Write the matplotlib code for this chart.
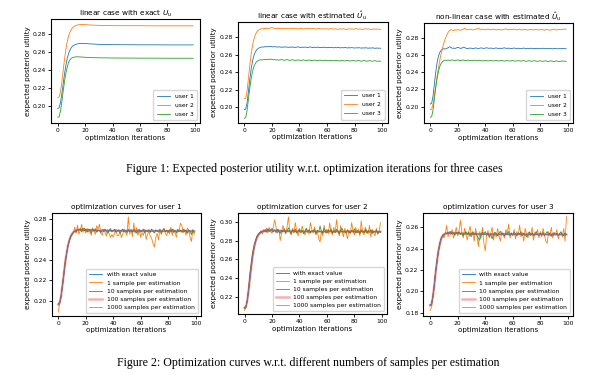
import matplotlib
matplotlib.use("Agg")
import matplotlib.pyplot as plt

# ---------------- data ----------------
XS = [0, 1, 2, 3, 4, 5, 6, 7, 8, 9, 10, 11, 12, 13, 14, 15, 16, 17, 18, 20, 22, 25, 30, 35, 40, 50, 60, 70, 80, 90, 99]
XN = list(range(100))

# Panel 1: linear case with exact U_u (smooth, sampled at XS)
p1_user1 = [.1972, .1980, .2040, .2140, .2255, .2365, .2460, .2535, .2590, .2628, .2654, .2670, .2680, .2687, .2692, .2695,
            .2697, .2698, .2698, .2697, .2695, .2692, .2688, .2686, .2685, .2684, .2683, .2683, .2682, .2682, .2682]
p1_user2 = [.2095, .2100, .2160, .2270, .2400, .2530, .2640, .2725, .2785, .2828, .2857, .2876, .2889, .2897, .2903, .2906,
            .2908, .2909, .2909, .2908, .2906, .2903, .2900, .2898, .2897, .2896, .2896, .2895, .2895, .2895, .2895]
p1_user3 = [.1874, .1880, .1945, .2050, .2170, .2280, .2370, .2440, .2490, .2518, .2533, .2541, .2545, .2548, .2549, .2549,
            .2548, .2547, .2546, .2544, .2542, .2540, .2538, .2537, .2536, .2535, .2534, .2534, .2533, .2533, .2533]

# Panel 2: linear case with estimated U_u (100 iterations)
p2_user1 = [.1968, .1976, .2050, .2180, .2320, .2440, .2530, .2590, .2630, .2655, .2670, .2679, .2685, .2688, .2686, .2691, .2689, .2693, .2690, .2694,
            .2691, .2688, .2692, .2689, .2686, .2690, .2687, .2684, .2688, .2685, .2689, .2686, .2683, .2687, .2684, .2688, .2685, .2682, .2686, .2689,
            .2685, .2682, .2686, .2683, .2687, .2684, .2681, .2685, .2688, .2684, .2681, .2685, .2682, .2686, .2683, .2680, .2684, .2681, .2685, .2682,
            .2679, .2683, .2680, .2684, .2681, .2678, .2682, .2679, .2683, .2680, .2677, .2681, .2678, .2682, .2679, .2676, .2680, .2677, .2681, .2678,
            .2675, .2679, .2676, .2680, .2677, .2674, .2678, .2675, .2679, .2676, .2673, .2677, .2674, .2678, .2675, .2672, .2676, .2673, .2675, .2672]
p2_user2 = [.2095, .2100, .2185, .2330, .2480, .2610, .2710, .2780, .2828, .2860, .2878, .2889, .2895, .2898, .2896, .2901, .2899, .2903, .2900, .2906,
            .2910, .2905, .2900, .2903, .2898, .2901, .2897, .2900, .2896, .2899, .2902, .2898, .2895, .2899, .2903, .2900, .2897, .2901, .2898, .2894,
            .2898, .2901, .2897, .2894, .2898, .2895, .2899, .2902, .2898, .2895, .2899, .2896, .2893, .2897, .2900, .2896, .2893, .2897, .2894, .2898,
            .2895, .2892, .2896, .2899, .2895, .2892, .2896, .2893, .2890, .2894, .2897, .2893, .2896, .2892, .2889, .2893, .2896, .2892, .2895, .2891,
            .2894, .2898, .2894, .2891, .2895, .2892, .2889, .2893, .2896, .2892, .2895, .2891, .2888, .2892, .2895, .2891, .2894, .2890, .2892, .2889]
p2_user3 = [.1870, .1876, .1960, .2090, .2220, .2330, .2410, .2465, .2500, .2520, .2532, .2538, .2541, .2538, .2543, .2546, .2541, .2548, .2543, .2550,
            .2545, .2540, .2544, .2538, .2542, .2536, .2540, .2544, .2539, .2535, .2539, .2543, .2538, .2534, .2538, .2541, .2537, .2533, .2537, .2540,
            .2536, .2532, .2536, .2540, .2535, .2531, .2535, .2539, .2534, .2531, .2535, .2538, .2533, .2530, .2534, .2537, .2533, .2529, .2533, .2536,
            .2532, .2529, .2533, .2536, .2531, .2528, .2532, .2535, .2530, .2527, .2531, .2534, .2530, .2527, .2531, .2534, .2529, .2526, .2530, .2533,
            .2529, .2526, .2530, .2533, .2528, .2525, .2529, .2532, .2527, .2524, .2528, .2531, .2527, .2524, .2528, .2530, .2526, .2523, .2526, .2524]

# Panel 3: non-linear case with estimated U_u
p3_user1 = [.2030, .2040, .2125, .2265, .2405, .2515, .2588, .2632, .2656, .2667, .2672, .2669, .2676, .2684, .2694, .2688, .2676, .2679, .2675, .2681,
            .2688, .2683, .2675, .2679, .2690, .2686, .2677, .2672, .2676, .2680, .2677, .2673, .2677, .2681, .2678, .2674, .2678, .2682, .2678, .2675,
            .2679, .2683, .2679, .2676, .2680, .2677, .2674, .2678, .2681, .2677, .2674, .2678, .2675, .2679, .2682, .2678, .2675, .2679, .2676, .2673,
            .2677, .2680, .2677, .2674, .2678, .2675, .2672, .2676, .2679, .2676, .2673, .2677, .2674, .2678, .2675, .2672, .2676, .2673, .2677, .2674,
            .2671, .2675, .2678, .2674, .2671, .2675, .2672, .2676, .2673, .2670, .2674, .2677, .2673, .2670, .2674, .2671, .2675, .2672, .2674, .2671]
p3_user2 = [.1965, .1970, .2030, .2135, .2245, .2355, .2455, .2545, .2622, .2688, .2745, .2793, .2832, .2862, .2882, .2893, .2887, .2885, .2891, .2888,
            .2894, .2890, .2886, .2892, .2897, .2910, .2898, .2890, .2895, .2899, .2893, .2889, .2894, .2898, .2903, .2908, .2899, .2894, .2898, .2895,
            .2891, .2896, .2900, .2895, .2891, .2896, .2899, .2894, .2890, .2895, .2898, .2893, .2889, .2894, .2898, .2902, .2896, .2891, .2895, .2892,
            .2896, .2899, .2894, .2890, .2895, .2898, .2893, .2889, .2894, .2897, .2892, .2888, .2893, .2897, .2892, .2889, .2894, .2898, .2893, .2889,
            .2893, .2896, .2891, .2887, .2892, .2896, .2891, .2886, .2891, .2895, .2899, .2893, .2889, .2893, .2896, .2892, .2895, .2898, .2901, .2898]
p3_user3 = [.1877, .1882, .1962, .2092, .2222, .2332, .2412, .2470, .2505, .2525, .2535, .2539, .2537, .2540, .2536, .2539, .2542, .2538, .2535, .2539,
            .2542, .2537, .2534, .2538, .2541, .2536, .2533, .2537, .2540, .2535, .2532, .2536, .2539, .2535, .2531, .2535, .2538, .2534, .2530, .2534,
            .2537, .2533, .2530, .2534, .2537, .2532, .2529, .2533, .2536, .2532, .2529, .2533, .2536, .2531, .2528, .2532, .2535, .2531, .2528, .2532,
            .2535, .2530, .2527, .2531, .2534, .2530, .2527, .2531, .2534, .2529, .2526, .2530, .2533, .2529, .2526, .2530, .2533, .2528, .2525, .2529,
            .2532, .2528, .2525, .2529, .2532, .2527, .2524, .2528, .2531, .2527, .2524, .2528, .2531, .2526, .2523, .2527, .2530, .2526, .2528, .2525]

# Panel 4: user 1 with different sample counts
p4_exact = p1_user1
p4_s1 = [.1890, .1975, .2025, .2160, .2265, .2400, .2450, .2530, .2590, .2620, .2645, .2665, .2720, .2660, .2740, .2652, .2685, .2748, .2668, .2712,
         .2662, .2705, .2672, .2690, .2640, .2715, .2680, .2650, .2735, .2700, .2750, .2660, .2642, .2700, .2672, .2632, .2695, .2655, .2620, .2648,
         .2625, .2660, .2700, .2635, .2640, .2680, .2618, .2655, .2700, .2668, .2640, .2820, .2650, .2700, .2630, .2760, .2662, .2715, .2640, .2695,
         .2620, .2665, .2640, .2700, .2600, .2648, .2685, .2630, .2610, .2560, .2525, .2620, .2660, .2595, .2700, .2648, .2690, .2712, .2660, .2638,
         .2690, .2655, .2720, .2640, .2700, .2665, .2622, .2700, .2680, .2760, .2738, .2665, .2700, .2640, .2712, .2690, .2620, .2580, .2700, .2650]
p4_s10 = [.1960, .1985, .2045, .2145, .2250, .2370, .2455, .2540, .2585, .2632, .2650, .2668, .2680, .2672, .2695, .2688, .2705, .2676, .2710, .2684,
          .2695, .2672, .2700, .2688, .2662, .2698, .2680, .2705, .2670, .2692, .2685, .2665, .2698, .2676, .2702, .2682, .2660, .2690, .2706, .2675,
          .2688, .2700, .2668, .2685, .2695, .2660, .2688, .2702, .2674, .2690, .2666, .2698, .2680, .2692, .2670, .2700, .2685, .2662, .2690, .2698,
          .2672, .2688, .2700, .2665, .2690, .2678, .2695, .2668, .2702, .2680, .2662, .2692, .2685, .2672, .2698, .2665, .2688, .2700, .2676, .2690,
          .2668, .2695, .2680, .2702, .2670, .2688, .2664, .2696, .2682, .2690, .2670, .2700, .2678, .2688, .2660, .2692, .2675, .2648, .2690, .2665]
p4_s100 = [.1962, .1978, .2045, .2145, .2258, .2368, .2462, .2538, .2592, .2630, .2656, .2671, .2682, .2688, .2693, .2696,
           .2695, .2697, .2699, .2696, .2693, .2691, .2686, .2687, .2684, .2685, .2683, .2684, .2682, .2683, .2681]
p4_s1000 = [.1970, .1979, .2042, .2142, .2256, .2366, .2461, .2536, .2591, .2629, .2655, .2670, .2681, .2688, .2692, .2695,
            .2697, .2697, .2698, .2696, .2694, .2692, .2688, .2686, .2685, .2684, .2683, .2683, .2682, .2682, .2682]

# Panel 5: user 2
p5_exact = p1_user2
p5_s1 = [.2060, .2085, .2160, .2290, .2440, .2560, .2680, .2740, .2800, .2845, .2870, .2880, .2905, .2870, .2915, .2888, .2930, .2880, .2940, .2900,
         .2875, .2950, .3020, .2935, .2880, .2920, .2800, .2880, .2960, .2910, .2870, .2945, .3050, .2900, .2860, .2930, .2880, .2990, .2900, .2850,
         .2920, .2880, .2955, .2895, .2860, .2930, .2900, .2870, .2990, .2920, .2880, .2945, .2860, .2900, .2820, .2785, .2900, .2850, .2960, .2880,
         .2920, .2870, .2985, .2900, .2860, .2940, .2880, .3020, .2900, .2850, .2960, .2890, .2840, .2930, .2880, .2820, .2910, .2870, .2990, .2900,
         .2860, .2940, .2880, .2920, .2850, .3010, .2890, .2860, .2940, .2900, .2870, .2960, .2840, .2920, .2880, .2850, .2930, .2870, .2900, .2990]
p5_s10 = [.2080, .2095, .2170, .2300, .2450, .2570, .2670, .2750, .2800, .2840, .2865, .2885, .2880, .2900, .2892, .2915, .2888, .2925, .2895, .2910,
          .2930, .2890, .2915, .2882, .2920, .2895, .2875, .2910, .2890, .2925, .2880, .2905, .2935, .2895, .2870, .2915, .2890, .2920, .2878, .2905,
          .2925, .2885, .2910, .2872, .2900, .2930, .2888, .2915, .2880, .2905, .2895, .2920, .2870, .2910, .2890, .2955, .2895, .2878, .2930, .2900,
          .2880, .2915, .2890, .2925, .2875, .2905, .2885, .2920, .2895, .2870, .2910, .2930, .2888, .2900, .2875, .2915, .2892, .2880, .2910, .2895,
          .2925, .2880, .2905, .2890, .2870, .2915, .2895, .2885, .2920, .2878, .2905, .2890, .2915, .2875, .2900, .2888, .2910, .2870, .2895, .2885]
p5_s100 = [.2088, .2098, .2162, .2268, .2402, .2528, .2642, .2722, .2787, .2826, .2858, .2875, .2890, .2896, .2904, .2905,
           .2909, .2907, .2910, .2906, .2907, .2902, .2901, .2898, .2898, .2897, .2895, .2896, .2894, .2896, .2894]
p5_s1000 = [.2094, .2100, .2161, .2269, .2400, .2530, .2640, .2724, .2785, .2828, .2857, .2876, .2889, .2897, .2903, .2906,
            .2908, .2909, .2909, .2908, .2906, .2903, .2900, .2898, .2897, .2896, .2896, .2895, .2895, .2895, .2895]

# Panel 6: user 3
p6_exact = p1_user3
p6_s1 = [.1820, .1850, .1950, .2060, .2190, .2270, .2380, .2430, .2490, .2530, .2500, .2540, .2620, .2510, .2560, .2530, .2580, .2500, .2545, .2600,
         .2520, .2570, .2665, .2560, .2500, .2590, .2530, .2480, .2560, .2610, .2510, .2555, .2470, .2590, .2530, .2420, .2560, .2500, .2600, .2450,
         .2380, .2520, .2570, .2500, .2540, .2600, .2480, .2550, .2510, .2590, .2520, .2470, .2560, .2530, .2500, .2580, .2540, .2630, .2500, .2550,
         .2520, .2580, .2490, .2560, .2530, .2620, .2510, .2550, .2470, .2590, .2540, .2500, .2560, .2520, .2600, .2480, .2550, .2530, .2580, .2500,
         .2560, .2510, .2590, .2530, .2470, .2450, .2560, .2520, .2600, .2500, .2550, .2530, .2580, .2490, .2540, .2560, .2510, .2590, .2470, .2700]
p6_s10 = [.1865, .1880, .1950, .2070, .2190, .2300, .2390, .2455, .2500, .2520, .2530, .2545, .2538, .2552, .2540, .2560, .2535, .2548, .2525, .2555,
          .2540, .2560, .2530, .2550, .2520, .2545, .2560, .2535, .2555, .2515, .2540, .2560, .2530, .2548, .2520, .2500, .2478, .2530, .2555, .2540,
          .2560, .2525, .2545, .2510, .2535, .2492, .2530, .2555, .2540, .2520, .2548, .2562, .2530, .2545, .2520, .2550, .2535, .2560, .2525, .2545,
          .2530, .2555, .2540, .2520, .2548, .2535, .2560, .2525, .2545, .2530, .2510, .2540, .2555, .2530, .2548, .2520, .2540, .2560, .2535, .2525,
          .2545, .2530, .2555, .2520, .2540, .2560, .2528, .2545, .2515, .2540, .2550, .2530, .2545, .2525, .2540, .2555, .2530, .2520, .2545, .2532]
p6_s100 = [.1870, .1879, .1947, .2048, .2172, .2278, .2372, .2438, .2492, .2516, .2535, .2540, .2546, .2547, .2550, .2548,
           .2549, .2546, .2547, .2543, .2543, .2539, .2539, .2536, .2537, .2534, .2535, .2533, .2534, .2532, .2533]
p6_s1000 = [.1873, .1880, .1946, .2050, .2171, .2280, .2371, .2440, .2490, .2518, .2533, .2541, .2545, .2548, .2549, .2549,
            .2548, .2547, .2546, .2544, .2542, .2540, .2538, .2537, .2536, .2535, .2534, .2534, .2533, .2533, .2533]

user_labels = ["user 1", "user 2", "user 3"]
sample_labels = ["with exact value", "1 sample per estimation", "10 samples per estimation",
                 "100 samples per estimation", "1000 samples per estimation"]
top_titles = [r"linear case with exact $U_u$", r"linear case with estimated $\hat{U}_u$",
              r"non-linear case with estimated $\hat{U}_u$"]
bottom_titles = ["optimization curves for user 1", "optimization curves for user 2", "optimization curves for user 3"]
caption1 = "Figure 1: Expected posterior utility w.r.t. optimization iterations for three cases"
caption2 = "Figure 2: Optimization curves w.r.t. different numbers of samples per estimation"

# ---------------- layout ----------------
W, H = 611, 375
fig = plt.figure(figsize=(W / 100, H / 100), dpi=100)

def box(l, t, r, b):
    return [l / W, 1 - b / H, (r - l) / W, (b - t) / H]

top_boxes = [box(51, 19, 200, 123.3), box(237.5, 22, 387.5, 123), box(423.5, 23.3, 573, 123.3)]
bot_boxes = [box(51.5, 212.7, 201, 316), box(237.7, 212.7, 387.3, 314.3), box(423.3, 212.7, 573.3, 316)]
top_ylims = [(0.1807, 0.2971), (0.1816, 0.2974), (0.1806, 0.2967)]
bot_ylims = [(0.185, 0.2862), (0.202, 0.3095), (0.1769, 0.2737)]

C = ["#1f77b4", "#ff7f0e", "#2ca02c", "#d62728", "#9467bd"]
LW = 0.6
TICK_FS, LABEL_FS, TITLE_FS, LEG_FS = 4.3, 5.1, 5.3, 4.3

def style(ax, ylim, title, title_fs):
    ax.set_xlim(-4.95, 103.95)
    ax.set_ylim(*ylim)
    ax.set_xticks([0, 20, 40, 60, 80, 100])
    ax.tick_params(labelsize=TICK_FS, length=2, width=0.6, pad=1.5)
    for s in ax.spines.values():
        s.set_linewidth(0.8)
    ax.set_xlabel("optimization iterations", fontsize=LABEL_FS, labelpad=1)
    ax.set_ylabel("expected posterior utility", fontsize=LABEL_FS, labelpad=1.5)
    ax.set_title(title, fontsize=title_fs, pad=2.5)

top_data = [
    (XS, [p1_user1, p1_user2, p1_user3]),
    (XN, [p2_user1, p2_user2, p2_user3]),
    (XN, [p3_user1, p3_user2, p3_user3]),
]
for i, (xv, series) in enumerate(top_data):
    ax = fig.add_axes(top_boxes[i])
    for j, ys in enumerate(series):
        ax.plot(xv, ys, color=C[j], lw=LW, label=user_labels[j])
    style(ax, top_ylims[i], top_titles[i], TITLE_FS)
    ax.legend(loc="lower right", fontsize=LEG_FS, handlelength=2.2, borderpad=0.6,
              labelspacing=0.65, borderaxespad=0.5)

bot_data = [
    (p4_exact, p4_s1, p4_s10, p4_s100, p4_s1000),
    (p5_exact, p5_s1, p5_s10, p5_s100, p5_s1000),
    (p6_exact, p6_s1, p6_s10, p6_s100, p6_s1000),
]
for i, (ex, s1, s10, s100, s1000) in enumerate(bot_data):
    ax = fig.add_axes(bot_boxes[i])
    ax.plot(XS, ex, color=C[0], lw=LW, label=sample_labels[0])
    ax.plot(XN, s1, color=C[1], lw=LW, label=sample_labels[1])
    ax.plot(XN, s10, color=C[2], lw=LW, label=sample_labels[2])
    ax.plot(XS, s100, color=C[3], lw=1.8, alpha=0.35, label=sample_labels[3])
    ax.plot(XS, s1000, color=C[4], lw=LW, alpha=0.8, label=sample_labels[4])
    style(ax, bot_ylims[i], bottom_titles[i], TITLE_FS)
    ax.legend(loc="lower right", fontsize=LEG_FS, handlelength=2.2, borderpad=0.5,
              labelspacing=0.5, borderaxespad=0.5)

fig.text(314 / W, 1 - 169 / H, caption1, family="Liberation Serif", fontsize=8.6, ha="center", va="center")
fig.text(308 / W, 1 - 363 / H, caption2, family="Liberation Serif", fontsize=8.6, ha="center", va="center")

fig.savefig("out.png", dpi=100)
